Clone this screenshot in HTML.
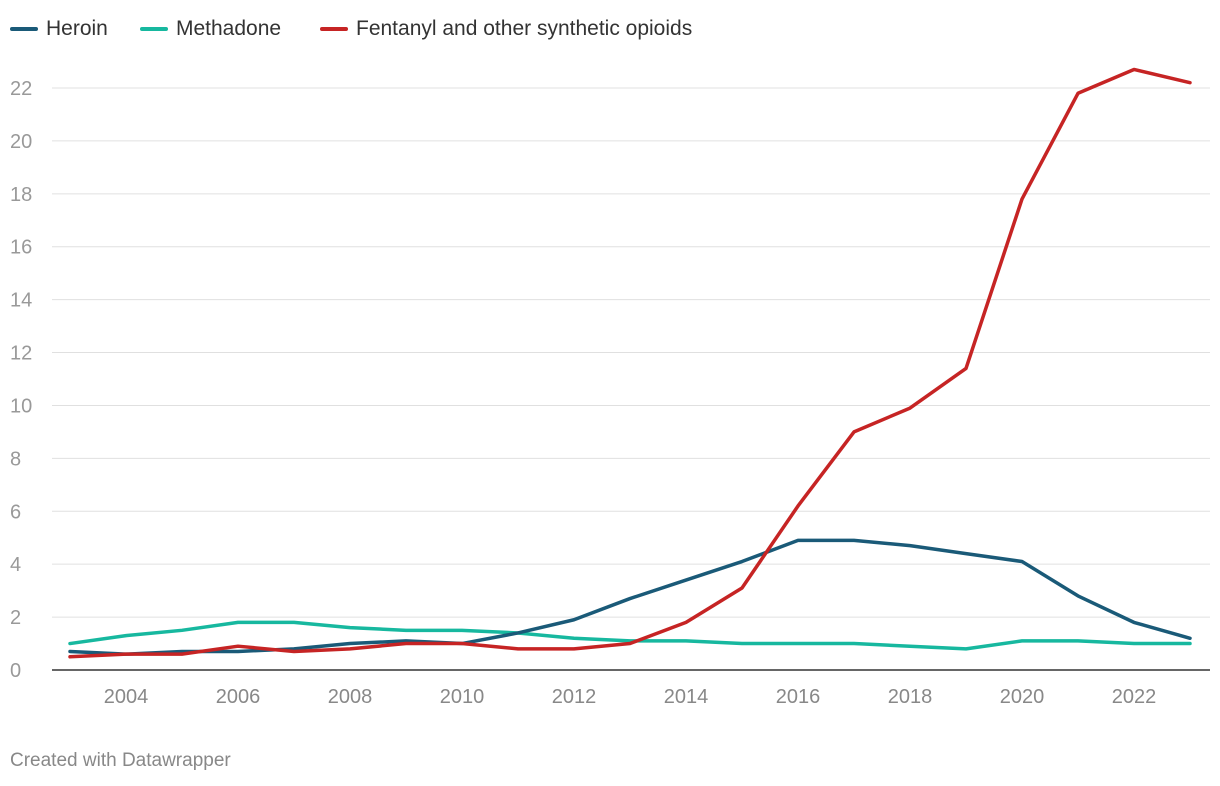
<!DOCTYPE html>
<html><head><meta charset="utf-8"><style>
body{margin:0;background:#fff;font-family:"Liberation Sans",sans-serif;}
#wrap{position:relative;width:1220px;height:786px;}
.leg{position:absolute;top:17px;font-size:21px;color:#333;display:flex;align-items:center;}
.leg span.sw{display:inline-block;width:28px;height:4px;border-radius:2px;margin-right:8px;}
#credit{position:absolute;left:10px;top:750px;font-size:19px;color:#888;}
</style></head><body>
<div id="wrap">
<div class="leg" style="left:10px"><span class="sw" style="background:#1a5a78"></span>Heroin</div>
<div class="leg" style="left:140px"><span class="sw" style="background:#17b89f"></span>Methadone</div>
<div class="leg" style="left:320px"><span class="sw" style="background:#c62424"></span>Fentanyl and other synthetic opioids</div>
<svg id="svg" width="1220" height="786" style="position:absolute;left:0;top:0"></svg>
<div id="credit">Created with Datawrapper</div>
</div>
<script>
const years=[2003,2004,2005,2006,2007,2008,2009,2010,2011,2012,2013,2014,2015,2016,2017,2018,2019,2020,2021,2022,2023];
const heroin=[0.7,0.6,0.7,0.7,0.8,1.0,1.1,1.0,1.4,1.9,2.7,3.4,4.1,4.9,4.9,4.7,4.4,4.1,2.8,1.8,1.2];
const methadone=[1.0,1.3,1.5,1.8,1.8,1.6,1.5,1.5,1.4,1.2,1.1,1.1,1.0,1.0,1.0,0.9,0.8,1.1,1.1,1.0,1.0];
const fentanyl=[0.5,0.6,0.6,0.9,0.7,0.8,1.0,1.0,0.8,0.8,1.0,1.8,3.1,6.2,9.0,9.9,11.4,17.8,21.8,22.7,22.2];
const yTicks=[0,2,4,6,8,10,12,14,16,18,20,22];
const xTicks=[2004,2006,2008,2010,2012,2014,2016,2018,2020,2022];
const NS="http://www.w3.org/2000/svg";
const svg=document.getElementById('svg');
const x=v=>70+(v-2003)*56;
const y=v=>670-v*(582/22);
function mk(t,a){const e=document.createElementNS(NS,t);for(const k in a)e.setAttribute(k,a[k]);svg.appendChild(e);return e;}
yTicks.forEach(t=>{
 const l=mk('line',{x1:52,x2:1210,y1:y(t),y2:y(t),stroke:t===0?'#333':'#e0e0e0','stroke-width':t===0?1.5:1});
 
 
 const tx=mk('text',{x:10,y:y(t)+7,'font-size':20,fill:'#999','font-family':'Liberation Sans, sans-serif'});
 tx.textContent=t;
 
 
});
xTicks.forEach(t=>{
 const tx=mk('text',{x:x(t),y:703,'font-size':20,fill:'#888','text-anchor':'middle','font-family':'Liberation Sans, sans-serif'});
 tx.textContent=t;
 
 
});
function line(d,c,n){
 const p=mk('polyline',{points:d.map((v,i)=>x(years[i])+','+y(v)).join(' '),fill:'none',stroke:c,'stroke-width':3.5,'stroke-linejoin':'round','stroke-linecap':'round'});
 
 
}
line(methadone,'#17b89f','line-methadone');
line(heroin,'#1a5a78','line-heroin');
line(fentanyl,'#c62424','line-fentanyl');
</script>
</body></html>
